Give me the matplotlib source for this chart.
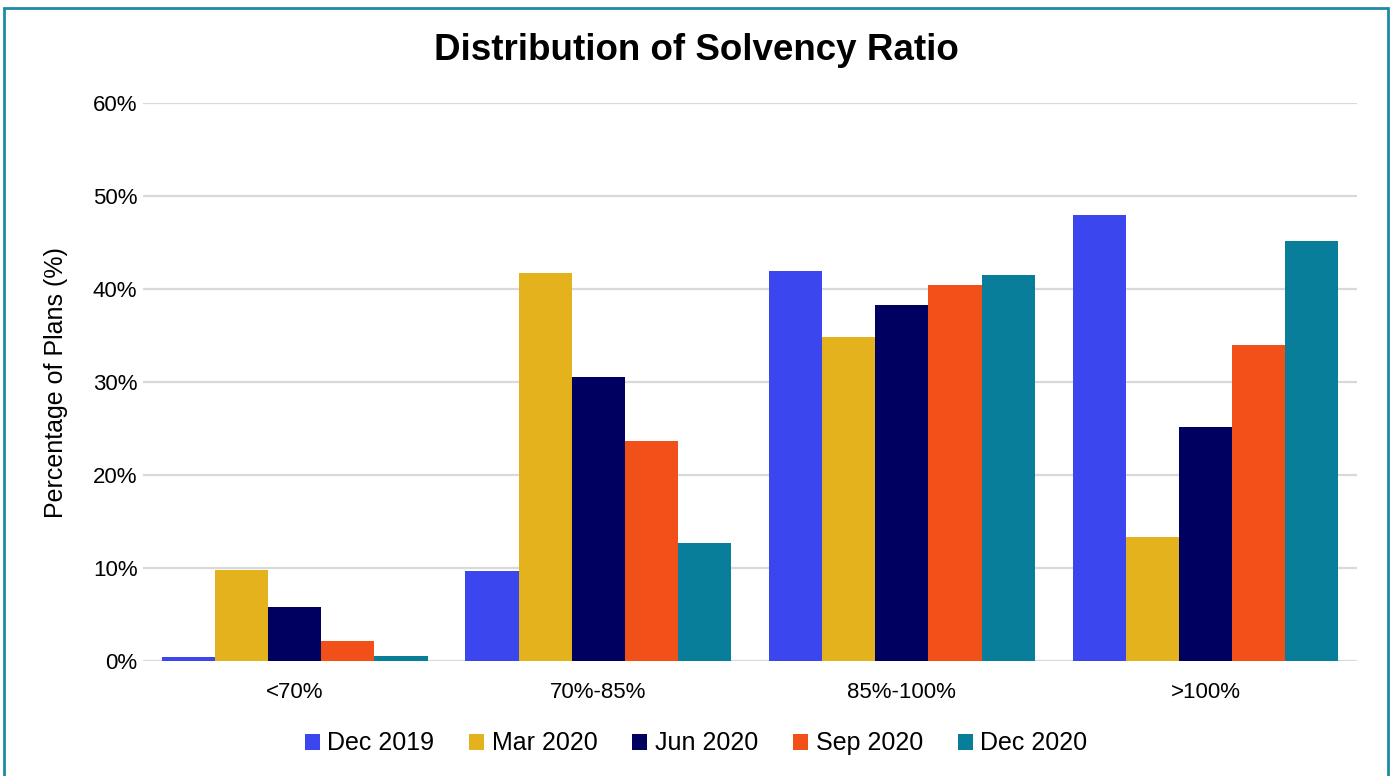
import numpy as np
import matplotlib
matplotlib.use('Agg')
import matplotlib.pyplot as plt
from matplotlib.patches import Rectangle
from matplotlib.ticker import FuncFormatter

#################################################

categories = ['<70%', '70%-85%', '85%-100%', '>100%']
series     = ['Dec 2019', 'Mar 2020', 'Jun 2020', 'Sep 2020', 'Dec 2020']
values     = {
    'Dec 2019': [0.4, 9.7, 42.0, 48.0],
    'Mar 2020': [9.8, 41.7, 34.9, 13.4],
    'Jun 2020': [5.8, 30.6, 38.3, 25.2],
    'Sep 2020': [2.2, 23.7, 40.5, 34.0],
    'Dec 2020': [0.6, 12.7, 41.5, 45.2],
}
colors     = ['#3B46EE', '#E3B21D', '#000060', '#F15119', '#097E9A']
yticks     = [0, 10, 20, 30, 40, 50, 60]

Title      = 'Distribution of Solvency Ratio'
YLabel     = 'Percentage of Plans (%)'

#################################################

plt.rcParams['font.family'] = ['Liberation Sans', 'DejaVu Sans']

fig = plt.figure(figsize=(13.92, 7.76), dpi=100)
ax  = fig.add_axes([0.1027, 0.148, 0.8723, 0.719])

x = np.arange(len(categories))
BarW = 0.175
for i, s in enumerate(series):
    off = (i - 2) * BarW
    ax.bar(x + off, values[s], width=BarW, color=colors[i], label=s, zorder=3)

ax.set_xlim(-0.5, len(categories) - 0.5)
ax.set_ylim(0, 60)
ax.set_yticks(yticks)
ax.yaxis.set_major_formatter(FuncFormatter(lambda v, p: '%d%%' % v))
ax.set_xticks(x)
ax.set_xticklabels(categories)
ax.tick_params(axis='both', length=0, labelsize=16)
ax.tick_params(axis='x', pad=15)
ax.tick_params(axis='y', pad=4)
ax.grid(axis='y', color='#D9D9D9', linewidth=1.6, zorder=0)
for sp in ax.spines.values():
    sp.set_visible(False)

ax.set_ylabel(YLabel, fontsize=18, labelpad=18)

fig.text(0.5, 0.935, Title, ha='center', va='center', fontsize=26.5, fontweight='bold')

fig.legend(loc='center', bbox_to_anchor=(0.5, 0.042), ncol=5, frameon=False,
           fontsize=18, handlelength=0.6, handleheight=0.6, handletextpad=0.3,
           columnspacing=1.4)

# outer frame
fig.patches.append(Rectangle((0.003, -0.01), 0.994, 1.0, transform=fig.transFigure,
                             fill=False, edgecolor='#1E8AA5', linewidth=2))

plt.savefig('out.png', dpi=100)
